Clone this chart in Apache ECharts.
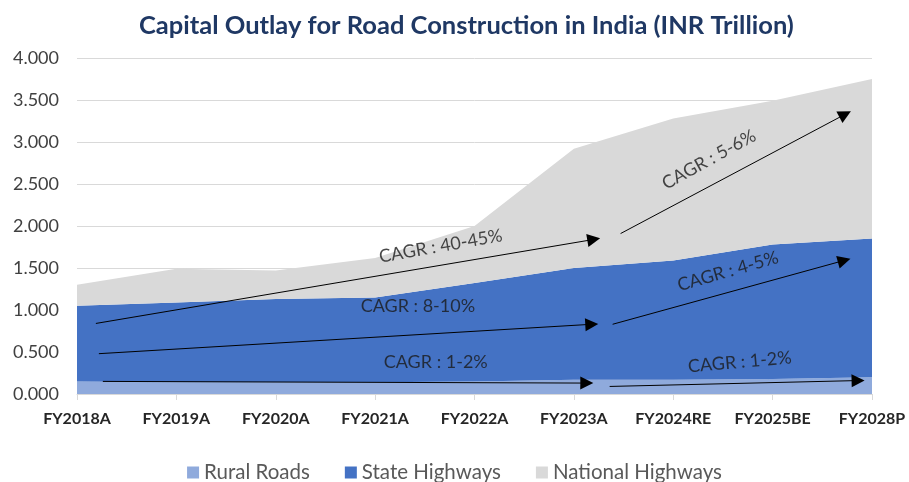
<!DOCTYPE html>
<html>
<head>
<meta charset="utf-8">
<script src="https://cdn.jsdelivr.net/npm/echarts@6/dist/echarts.min.js"></script>
<style>
  html, body { margin: 0; padding: 0; background: #fff; }
  #main { width: 909px; height: 482px; }
</style>
</head>
<body>
<div id="main"></div>
<script>
// categories and values (INR trillion)
var years = ['FY2018A', 'FY2019A', 'FY2020A', 'FY2021A', 'FY2022A', 'FY2023A', 'FY2024RE', 'FY2025BE', 'FY2028P'];
var ruralRoads = [0.15, 0.14, 0.14, 0.14, 0.15, 0.17, 0.17, 0.18, 0.20];
var stateHighways = [0.90, 0.95, 0.99, 1.01, 1.17, 1.33, 1.42, 1.60, 1.65];
var nationalHighways = [0.25, 0.40, 0.34, 0.47, 0.68, 1.42, 1.69, 1.71, 1.90];

// CAGR arrows: [x0, y0, x1, y1] with x in category-index units
var arrows = [
  [0.19, 0.84, 5.20, 1.84],
  [5.47, 1.91, 7.73, 3.33],
  [0.22, 0.48, 5.18, 0.83],
  [5.39, 0.83, 7.72, 1.59],
  [0.26, 0.15, 5.13, 0.13],
  [5.36, 0.09, 7.86, 0.16]
];
// CAGR labels: text, x, y, rotation
var cagrText = ['CAGR : 40-45%', 'CAGR : 5-6%', 'CAGR : 8-10%', 'CAGR : 4-5%', 'CAGR : 1-2%', 'CAGR : 1-2%'];
var cagrPos = [[3.66, 1.76], [6.36, 2.79], [3.43, 1.05], [6.55, 1.46], [3.61, 0.38], [6.67, 0.38]];
var cagrRotate = [10, 29, 0, 16, 0, 5];

var myChart = echarts.init(document.getElementById('main'));

var arrowData = arrows.map(function (a) {
  return { coords: [[a[0], a[1]], [a[2], a[3]]] };
});
var labelData = cagrText.map(function (t, i) {
  return { name: t, value: cagrPos[i], label: { rotate: cagrRotate[i] } };
});

function areaSeries(name, data, color) {
  return {
    name: name,
    type: 'line',
    stack: 'total',
    data: data,
    symbol: 'none',
    lineStyle: { width: 0 },
    areaStyle: { color: color, opacity: 1 },
    itemStyle: { color: color },
    emphasis: { disabled: true }
  };
}

var option = {
  animation: false,
  title: {
    text: 'Capital Outlay for Road Construction in India (INR Trillion)',
    left: 139,
    top: 13,
    padding: 0,
    textStyle: { fontFamily: 'Lato', fontWeight: 'bold', fontSize: 25.5, color: '#1F3864' }
  },
  legend: {
    top: 457,
    left: 'center',
    icon: 'rect',
    itemWidth: 12,
    itemHeight: 12,
    itemGap: 35,
    data: ['Rural Roads', 'State Highways', 'National Highways'],
    textStyle: { fontFamily: 'Lato', fontSize: 20.5, color: '#595959' }
  },
  grid: { left: 77, right: 37, top: 58, bottom: 88 },
  xAxis: [{
    type: 'category',
    data: years,
    boundaryGap: false,
    axisLine: { lineStyle: { color: '#d9d9d9', width: 1 } },
    axisTick: { show: true, length: 6, interval: 0, lineStyle: { color: '#d9d9d9' } },
    axisLabel: { interval: 0, margin: 17, fontFamily: 'Lato', fontWeight: 'bold', fontSize: 16, color: '#262626' },
    splitLine: { show: false }
  }, {
    type: 'value',
    min: 0,
    max: 8,
    show: false
  }],
  yAxis: {
    type: 'value',
    min: 0,
    max: 4,
    interval: 0.5,
    axisLine: { show: false },
    axisTick: { show: false },
    axisLabel: {
      margin: 18,
      fontFamily: 'Lato', fontSize: 18, color: '#404040',
      formatter: function (v) { return v.toFixed(3); }
    },
    splitLine: { lineStyle: { color: '#d9d9d9', width: 1 } }
  },
  series: [
    areaSeries('Rural Roads', ruralRoads, '#8FAADC'),
    areaSeries('State Highways', stateHighways, '#4472C4'),
    areaSeries('National Highways', nationalHighways, '#D9D9D9'),
    {
      type: 'lines',
      coordinateSystem: 'cartesian2d',
      xAxisIndex: 1,
      yAxisIndex: 0,
      symbol: ['none', 'triangle'],
      symbolSize: [10, 13],
      lineStyle: { color: '#000', width: 1, opacity: 1 },
      data: arrowData,
      silent: true,
      z: 5
    },
    {
      type: 'scatter',
      xAxisIndex: 1,
      yAxisIndex: 0,
      symbolSize: 0,
      silent: true,
      data: labelData,
      label: {
        show: true,
        position: 'inside',
        formatter: '{b}',
        fontFamily: 'Lato',
        fontSize: 18,
        color: '#1a1a1a'
      },
      z: 6
    }
  ]
};

myChart.setOption(option);
</script>
</body>
</html>
